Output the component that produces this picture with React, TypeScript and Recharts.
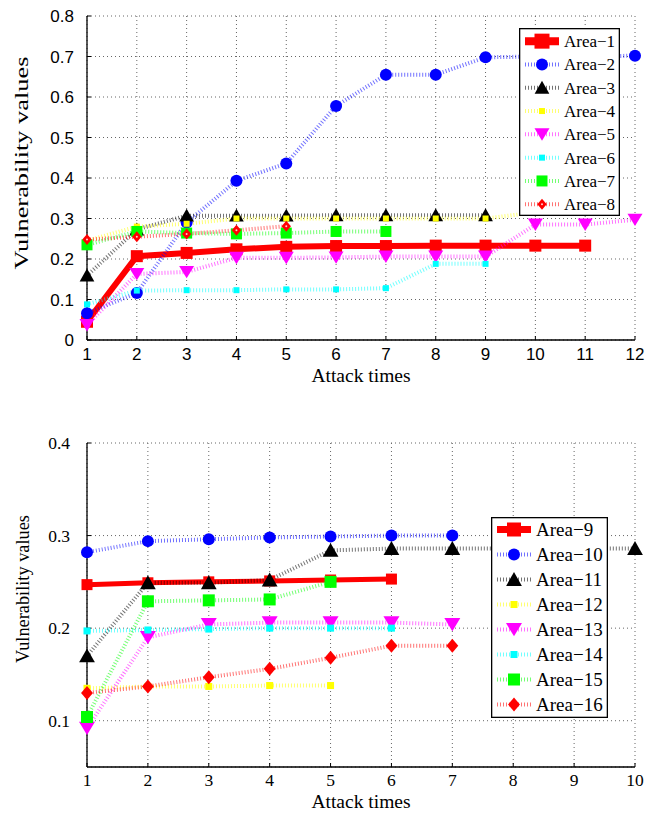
import React from 'react';
import { LineChart, Line, XAxis, YAxis, CartesianGrid, Legend } from 'recharts';

// attack times (x axis)
const attacksTop = [1, 2, 3, 4, 5, 6, 7, 8, 9, 10, 11, 12];
const attacksBottom = [1, 2, 3, 4, 5, 6, 7, 8, 9, 10];

// vulnerability values, top panel
const area1 = [0.045, 0.207, 0.215, 0.224, 0.23, 0.232, 0.232, 0.233, 0.233, 0.233, 0.233];
const area2 = [0.066, 0.116, 0.29, 0.393, 0.436, 0.578, 0.655, 0.655, 0.698, 0.7, 0.7, 0.702];
const area3 = [0.159, 0.273, 0.307, 0.307, 0.307, 0.308, 0.308, 0.308, 0.308];
const area4 = [0.245, 0.28, 0.287, 0.3, 0.3, 0.3, 0.3, 0.3, 0.3, 0.315];
const area5 = [0.037, 0.163, 0.168, 0.203, 0.203, 0.204, 0.206, 0.206, 0.206, 0.285, 0.285, 0.297];
const area6 = [0.088, 0.122, 0.123, 0.123, 0.125, 0.125, 0.128, 0.188, 0.188];
const area7 = [0.235, 0.268, 0.264, 0.262, 0.264, 0.268, 0.268];
const area8 = [0.248, 0.255, 0.262, 0.271, 0.281];

// vulnerability values, bottom panel
const area9 = [0.247, 0.249, 0.25, 0.251, 0.252, 0.253];
const area10 = [0.282, 0.294, 0.296, 0.298, 0.299, 0.3, 0.3];
const area11 = [0.17, 0.249, 0.249, 0.252, 0.284, 0.286, 0.286, 0.286, 0.286, 0.286];
const area12 = [0.135, 0.137, 0.137, 0.138, 0.138];
const area13 = [0.092, 0.19, 0.204, 0.206, 0.206, 0.206, 0.204];
const area14 = [0.197, 0.198, 0.199, 0.2, 0.2, 0.2];
const area15 = [0.104, 0.229, 0.23, 0.231, 0.25];
const area16 = [0.13, 0.137, 0.147, 0.156, 0.168, 0.181, 0.181];

const namesTop = ['Area\u22121', 'Area\u22122', 'Area\u22123', 'Area\u22124', 'Area\u22125', 'Area\u22126', 'Area\u22127', 'Area\u22128'];
const namesBottom = ['Area\u22129', 'Area\u221210', 'Area\u221211', 'Area\u221212', 'Area\u221213', 'Area\u221214', 'Area\u221215', 'Area\u221216'];

const yTicksTop = [0, 0.1, 0.2, 0.3, 0.4, 0.5, 0.6, 0.7, 0.8];
const yTicksBottom = [0.1, 0.2, 0.3, 0.4];

const seriesTop = [area1, area2, area3, area4, area5, area6, area7, area8];
const seriesBottom = [area9, area10, area11, area12, area13, area14, area15, area16];

type Shape = 'square' | 'circle' | 'triUp' | 'triDown' | 'diamond';
interface Sty { color: string; shape: Shape; size: number; solid?: boolean; width: number; pip?: boolean; }

const stylesTop: Sty[] = [
  { color: '#ff0000', shape: 'square', size: 12, solid: true, width: 6 },
  { color: '#0000ff', shape: 'circle', size: 12, width: 4 },
  { color: '#000000', shape: 'triUp', size: 14, width: 4 },
  { color: '#ffff00', shape: 'square', size: 6, width: 4 },
  { color: '#ff00ff', shape: 'triDown', size: 15, width: 4 },
  { color: '#00ffff', shape: 'square', size: 6, width: 4 },
  { color: '#00ff00', shape: 'square', size: 11, width: 4 },
  { color: '#ff0000', shape: 'diamond', size: 11, width: 4, pip: true },
];

const stylesBottom: Sty[] = [
  { color: '#ff0000', shape: 'square', size: 11, solid: true, width: 5 },
  { color: '#0000ff', shape: 'circle', size: 12, width: 4 },
  { color: '#000000', shape: 'triUp', size: 15, width: 4 },
  { color: '#ffff00', shape: 'square', size: 7, width: 4 },
  { color: '#ff00ff', shape: 'triDown', size: 16, width: 4 },
  { color: '#00ffff', shape: 'square', size: 7, width: 4 },
  { color: '#00ff00', shape: 'square', size: 12, width: 4 },
  { color: '#ff0000', shape: 'diamond', size: 14, width: 4 },
];

const rowsTop = attacksTop.map((x, i) => {
  const r: any = { x };
  seriesTop.forEach((s, k) => { r['s' + k] = s[i]; });
  return r;
});
const rowsBottom = attacksBottom.map((x, i) => {
  const r: any = { x };
  seriesBottom.forEach((s, k) => { r['s' + k] = s[i]; });
  return r;
});

const SERIF = 'Liberation Serif';
const SANS = 'Liberation Sans';

function marker(st: Sty, cx: number, cy: number, key?: any) {
  const h = st.size / 2;
  const c = st.color;
  switch (st.shape) {
    case 'square':
      return <rect key={key} x={cx - h} y={cy - h} width={st.size} height={st.size} fill={c} />;
    case 'circle':
      return <circle key={key} cx={cx} cy={cy} r={h} fill={c} />;
    case 'triUp':
      return <polygon key={key} points={`${cx},${cy - h} ${cx - h * 1.05},${cy + h * 0.85} ${cx + h * 1.05},${cy + h * 0.85}`} fill={c} />;
    case 'triDown':
      return <polygon key={key} points={`${cx},${cy + h * 0.85} ${cx - h},${cy - h * 0.8} ${cx + h},${cy - h * 0.8}`} fill={c} />;
    default:
      return (
        <g key={key}>
          <polygon points={`${cx},${cy - h} ${cx + h * 0.85},${cy} ${cx},${cy + h} ${cx - h * 0.85},${cy}`} fill={c} />
          {st.pip && <circle cx={cx} cy={cy} r={1} fill="#ffd0d0" />}
        </g>
      );
  }
}

function makeDot(st: Sty) {
  return (p: any) => {
    if (p.cy == null || p.value == null || p.cx == null) return <g key={p.index} />;
    return marker(st, p.cx, p.cy, p.index);
  };
}

function LegendBox({ names, styles, width, height, fontSize, rowH, padTop }: { names: string[]; styles: Sty[]; width: number; height: number; fontSize: number; rowH: number; padTop: number }) {
  return (
    <svg width={width} height={height} style={{ display: 'block' }}>
      <rect x={0.65} y={0.65} width={width - 1.3} height={height - 1.3} fill="#fff" stroke="#000" strokeWidth={1.3} />
      {names.map((n, i) => {
        const st = styles[i];
        const cy = padTop + rowH * i + rowH / 2;
        return (
          <g key={n}>
            <line x1={6} x2={40} y1={cy} y2={cy} stroke={st.color} strokeWidth={st.solid ? st.width + 2 : st.width}
              strokeDasharray={st.solid ? undefined : '1 2'} strokeOpacity={st.solid ? 1 : 0.55} />
            {marker(i === 0 ? { ...st, size: st.size + 3 } : st, 23, cy)}
            <text x={45} y={cy} dy="0.35em" fontFamily={SERIF} fontSize={fontSize} fill="#000">{n}</text>
          </g>
        );
      })}
    </svg>
  );
}

function Panel(props: {
  rows: any[]; styles: Sty[]; names: string[]; height: number; top: number; xH: number; xMax: number;
  xTicks: number[]; yTicks: number[]; yDomain: [number, number]; tickFont: string; tickSize: number;
  yMargin: number; xGap: number; titleY: number; yTitleX: number; yTitleY: number; yTitleLen: number;
  legend: { left: number; top: number; width: number; height: number; fontSize: number; rowH: number; padTop: number };
}) {
  const p = props;
  const tickStyle = { fill: '#000', fontSize: p.tickSize, fontFamily: p.tickFont };
  return (
    <div style={{ fontFamily: p.tickFont, width: 646, height: p.height }}>
      <LineChart width={646} height={p.height} data={p.rows} margin={{ top: p.top, right: 11, left: 0, bottom: 0 }}>
        <CartesianGrid stroke="#666" strokeDasharray="1 3" strokeWidth={1} />
        <XAxis dataKey="x" type="number" domain={[1, p.xMax]} ticks={p.xTicks} interval={0}
          height={p.xH} tick={tickStyle} tickSize={-4} tickMargin={p.xGap}
          axisLine={{ stroke: '#000', strokeWidth: 1.3 }} tickLine={{ stroke: '#000' }}
          label={(lp: any) => (
            <text x={lp.viewBox.x + lp.viewBox.width / 2} y={p.titleY} textAnchor="middle" fontFamily={SERIF} fontSize={19.5} fill="#000">Attack times</text>
          )} />
        <YAxis type="number" domain={p.yDomain} ticks={p.yTicks} interval={0} width={87} tick={tickStyle}
          tickFormatter={(v: number) => String(v)} tickSize={-4} tickMargin={p.yMargin}
          axisLine={{ stroke: '#000', strokeWidth: 1.3 }} tickLine={{ stroke: '#000' }} allowDataOverflow
          label={() => (
            <text transform={`translate(${p.yTitleX},${p.yTitleY}) rotate(-90)`} textAnchor="middle" dy="0.35em"
              fontFamily={SERIF} fontSize={19} fill="#000" textLength={p.yTitleLen} lengthAdjust="spacingAndGlyphs">Vulnerability values</text>
          )} />
        <Legend layout="vertical" align="center" verticalAlign="middle"
          wrapperStyle={{ left: p.legend.left, top: p.legend.top, width: p.legend.width, height: p.legend.height }}
          content={() => <LegendBox names={p.names} styles={p.styles} width={p.legend.width} height={p.legend.height}
            fontSize={p.legend.fontSize} rowH={p.legend.rowH} padTop={p.legend.padTop} />} />
        {p.styles.map((st, k) => (
          <Line key={k} dataKey={'s' + k} name={p.names[k]} stroke={st.color} strokeWidth={st.width}
            strokeDasharray={st.solid ? undefined : '1 2'} strokeOpacity={st.solid ? 1 : 0.55}
            dot={makeDot(st)} activeDot={false} isAnimationActive={false} legendType="none" />
        ))}
      </LineChart>
    </div>
  );
}

export default function App() {
  return (
    <div style={{ position: 'absolute', left: 0, top: 0, width: 646, height: 816, background: '#fff' }}>
      <Panel rows={rowsTop} styles={stylesTop} names={namesTop} height={395} top={16} xH={55} xMax={12}
        xTicks={attacksTop} yTicks={yTicksTop} yDomain={[0, 0.8]} tickFont={SANS} tickSize={17}
        yMargin={17} xGap={12} titleY={382} yTitleX={21} yTitleY={163} yTitleLen={213}
        legend={{ left: 519, top: 28, width: 101, height: 188, fontSize: 17, rowH: 23.3, padTop: 1.5 }} />
      <Panel rows={rowsBottom} styles={stylesBottom} names={namesBottom} height={421} top={48} xH={49} xMax={10}
        xTicks={attacksBottom} yTicks={yTicksBottom} yDomain={[0.05, 0.4]} tickFont={SERIF} tickSize={17.5}
        yMargin={21} xGap={11} titleY={413} yTitleX={22} yTitleY={194} yTitleLen={148}
        legend={{ left: 491, top: 122, width: 117, height: 201, fontSize: 19, rowH: 25, padTop: 0 }} />
    </div>
  );
}
